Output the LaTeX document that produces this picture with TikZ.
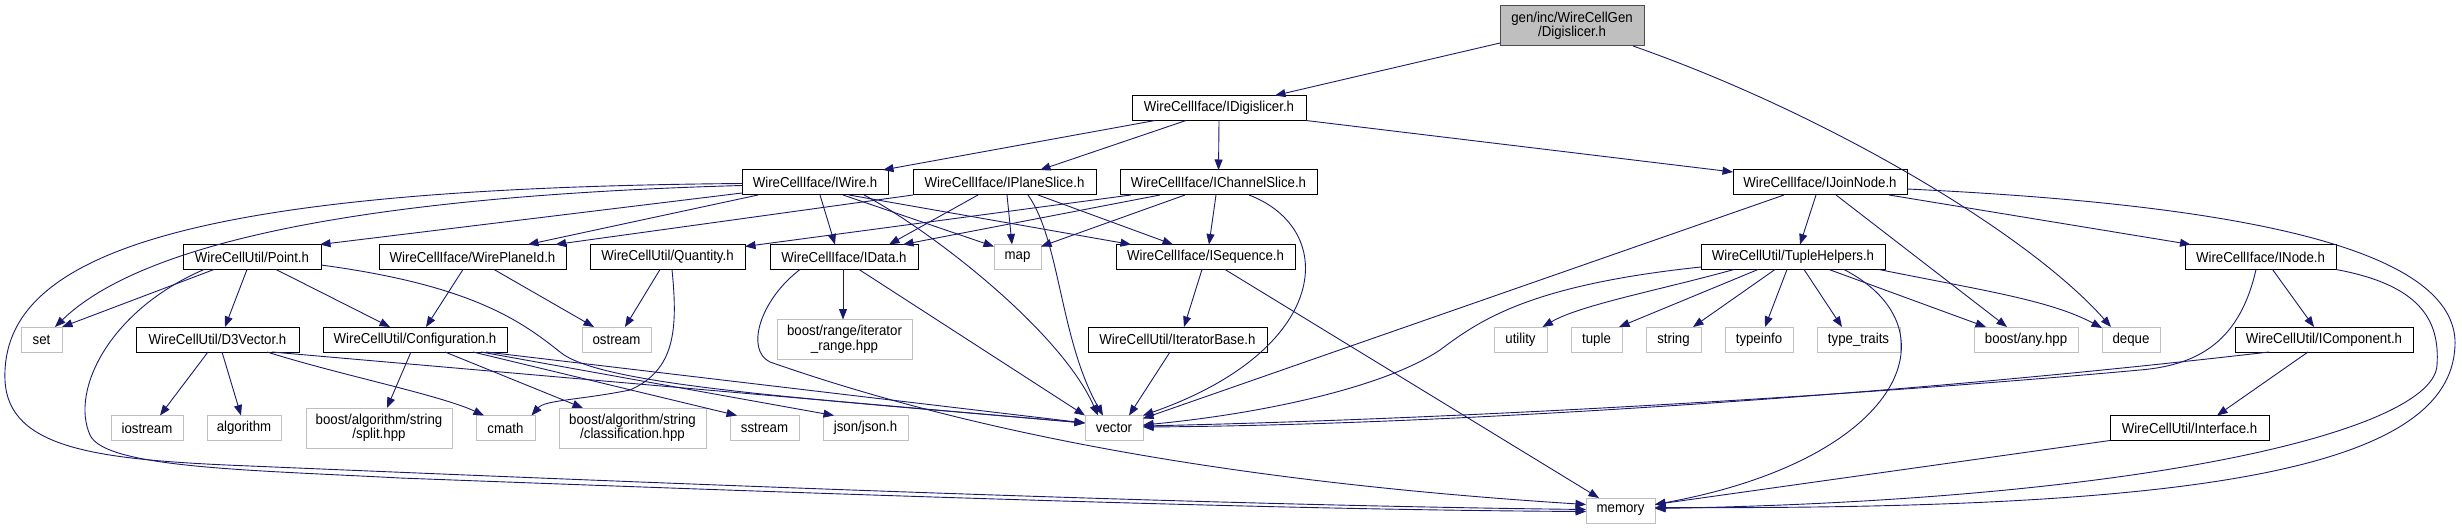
\documentclass[tikz,border=0pt]{standalone}
\usepackage{fontspec}
\setmainfont{Liberation Sans}[FakeStretch=0.92]
\usetikzlibrary{arrows.meta, positioning}
\definecolor{depBlue} {HTML}{191970}
\definecolor{sysGray} {HTML}{BFBFBF}
\definecolor{rootGray}{HTML}{BFBFBF}
\tikzset{
  hdr/.style  = {rectangle, draw=black, fill=white, line width=1pt,
                 minimum height=25pt, inner sep=0pt, outer sep=0pt,
                 align=center, font=\fontsize{14.4}{14.5}\selectfont},
  sys/.style  = {hdr, draw=sysGray},
  root/.style = {hdr, draw=black!70, fill=rootGray, minimum height=40pt},
  dep/.style  = {-{Triangle[length=10.5pt, width=8pt]}, line width=0.9pt, color=depBlue},
}
\begin{document}
\begin{tikzpicture}[x=1pt, y=-1pt]
  \useasboundingbox (0,0) rectangle (2462,529);

  % ---- top of the graph ----
  \node[root, minimum width=144pt] (dig)  at (1572,26)  {gen/inc/WireCellGen\\/Digislicer.h};
  \node[hdr,  minimum width=174pt] (idig) at (1219,108) {WireCellIface/IDigislicer.h};

  % ---- interfaces ----
  \node[hdr, minimum width=146pt] (iwire) at (815,182.5) {WireCellIface/IWire.h};
  \node[hdr, minimum width=183pt, right=25pt of iwire]  (iplane) {WireCellIface/IPlaneSlice.h};
  \node[hdr, minimum width=197pt, right=24pt of iplane] (ichan)  {WireCellIface/IChannelSlice.h};
  \node[hdr, minimum width=174pt, right=416pt of ichan] (ijoin)  {WireCellIface/IJoinNode.h};

  % ---- fourth row ----
  \node[hdr, minimum width=138pt] (point) at (252,257) {WireCellUtil/Point.h};
  \node[hdr, minimum width=187pt, right=58pt of point]   (wpid)    {WireCellIface/WirePlaneId.h};
  \node[hdr, minimum width=155pt, right=24pt of wpid]    (quant)   {WireCellUtil/Quantity.h};
  \node[hdr, minimum width=148pt, right=25pt of quant]   (idata)   {WireCellIface/IData.h};
  \node[sys, minimum width=47pt,  right=76pt of idata]   (map)     {map};
  \node[hdr, minimum width=179pt, right=75pt of map]     (iseq)    {WireCellIface/ISequence.h};
  \node[hdr, minimum width=184pt, right=406pt of iseq]   (tuphelp) {WireCellUtil/TupleHelpers.h};
  \node[hdr, minimum width=151pt, right=300pt of tuphelp] (inode)  {WireCellIface/INode.h};

  % ---- fifth row ----
  \node[sys, minimum width=41pt] (set) at (41.5,339.5) {set};
  \node[hdr, minimum width=163pt, right=74pt of set]       (d3v)        {WireCellUtil/D3Vector.h};
  \node[hdr, minimum width=184pt, right=24pt of d3v]       (config)     {WireCellUtil/Configuration.h};
  \node[sys, minimum width=69pt,  right=75pt of config]    (ostream)    {ostream};
  \node[sys, minimum width=135pt, minimum height=40pt, right=126pt of ostream] (itrange) {boost/range/iterator\\\_range.hpp};
  \node[hdr, minimum width=179pt, right=176pt of itrange]  (itbase)     {WireCellUtil/IteratorBase.h};
  \node[sys, minimum width=53pt,  right=227pt of itbase]   (utility)    {utility};
  \node[sys, minimum width=51pt,  right=24pt of utility]   (tuplestd)   {tuple};
  \node[sys, minimum width=55pt,  right=24pt of tuplestd]  (string)     {string};
  \node[sys, minimum width=68pt,  right=24pt of string]    (typeinfo)   {typeinfo};
  \node[sys, minimum width=83pt,  right=24pt of typeinfo]  (typetraits) {type\_traits};
  \node[sys, minimum width=104pt, right=74pt of typetraits] (anyhpp)    {boost/any.hpp};
  \node[sys, minimum width=58pt,  right=24pt of anyhpp]    (deque)      {deque};
  \node[hdr, minimum width=178pt, right=75pt of deque]     (icomp)      {WireCellUtil/IComponent.h};

  % ---- sixth row ----
  \node[sys, minimum width=72pt] (iostream) at (147,428) {iostream};
  \node[sys, minimum width=74pt,  right=24pt of iostream]  (algorithm) {algorithm};
  \node[sys, minimum width=146pt, minimum height=40pt, right=25pt of algorithm] (split) {boost/algorithm/string\\/split.hpp};
  \node[sys, minimum width=59pt,  right=24pt of split]     (cmath)     {cmath};
  \node[sys, minimum width=147pt, minimum height=40pt, right=24pt of cmath] (classif) {boost/algorithm/string\\/classification.hpp};
  \node[sys, minimum width=69pt,  right=24pt of classif]   (sstream)   {sstream};
  \node[sys, minimum width=85pt,  right=24pt of sstream]   (json)      {json/json.h};
  \node[sys, minimum width=58pt,  right=177pt of json]     (vector)    {vector};
  \node[hdr, minimum width=159pt, right=967pt of vector]   (iface)     {WireCellUtil/Interface.h};

  % ---- bottom ----
  \node[sys, minimum width=69pt] (memory) at (1620.5,510.5) {memory};

  % ---- from the top ----
  \draw[dep] ([yshift=3pt]dig.south west) -- ([xshift=56pt]idig.north);
  \draw[dep] ([xshift=61pt]dig.south) .. controls (1830,115) and (2030,235) .. ([xshift=-20pt]deque.north);
  \draw[dep] ([xshift=-64pt]idig.south) -- ([xshift=68pt]iwire.north);
  \draw[dep] ([xshift=-33pt]idig.south) -- ([xshift=35.5pt]iplane.north);
  \draw[dep] (idig.south) -- (ichan.north);
  \draw[dep] (idig.south east) -- ([yshift=-2pt]ijoin.north west);

  % ---- IWire.h ----
  \draw[dep] ([yshift=-3pt]iwire.west) .. controls (400,195) and (150,235) .. ([xshift=13.5pt]set.north);
  \draw[dep] ([yshift=-1pt]iwire.west) .. controls (200,188) and (0,250) .. (5,380)
             .. controls (8,450) and (100,460) .. (250,466)
             .. controls (700,485) and (1200,505) .. ([yshift=1pt]memory.west);
  \draw[dep] ([yshift=2pt]iwire.south west) -- ([xshift=-1pt]point.north east);
  \draw[dep] ([xshift=-57pt]iwire.south) -- ([xshift=55.5pt]wpid.north);
  \draw[dep] ([xshift=5pt]iwire.south) -- ([xshift=-9pt]idata.north);
  \draw[dep] ([xshift=28pt]iwire.south) -- ([yshift=-2pt]map.north west);
  \draw[dep] ([xshift=34pt]iwire.south) -- ([xshift=-74.5pt]iseq.north);
  \draw[dep] ([xshift=49pt]iwire.south) .. controls (930,230) and (1060,330) .. ([xshift=-16pt]vector.north);

  % ---- IPlaneSlice.h ----
  \draw[dep] (iplane.south west) -- ([xshift=83pt]wpid.north);
  \draw[dep] ([xshift=-26.5pt]iplane.south) -- ([xshift=45pt]idata.north);
  \draw[dep] ([xshift=2.5pt]iplane.south) -- ([xshift=-5.5pt]map.north);
  \draw[dep] ([xshift=23.5pt]iplane.south) .. controls (1060,240) and (1060,340) .. ([xshift=-11pt]vector.north);
  \draw[dep] ([xshift=33.5pt]iplane.south) -- ([xshift=-32.5pt]iseq.north);

  % ---- IChannelSlice.h ----
  \draw[dep] ([xshift=-87.5pt]ichan.south) -- ([yshift=-2pt]quant.north east);
  \draw[dep] ([xshift=-58.5pt]ichan.south) -- ([xshift=59pt]idata.north);
  \draw[dep] ([xshift=-33.5pt]ichan.south) -- ([yshift=-2pt]map.north east);
  \draw[dep] ([xshift=-2.5pt]ichan.south) -- ([xshift=3.5pt]iseq.north);
  \draw[dep] ([xshift=30.5pt]ichan.south) .. controls (1340,230) and (1330,350) .. (vector.north east);

  % ---- IJoinNode.h ----
  \draw[dep] ([xshift=-36pt]ijoin.south) -- ([yshift=-3pt]vector.north east);
  \draw[dep] ([xshift=-4pt]ijoin.south) -- ([xshift=7pt]tuphelp.north);
  \draw[dep] ([xshift=16pt]ijoin.south) -- ([xshift=-19pt]anyhpp.north);
  \draw[dep] ([xshift=69pt]ijoin.south) -- ([xshift=-70pt]inode.north);
  \draw[dep] ([yshift=-6.5pt]ijoin.east) .. controls (2250,205) and (2450,250) .. (2455,340)
             .. controls (2458,470) and (2200,510) .. ([yshift=3pt]memory.east);

  % ---- Point.h ----
  \draw[dep] ([xshift=-38pt]point.south) -- (set.north east);
  \draw[dep] ([xshift=-48pt]point.south) .. controls (110,310) and (70,390) .. (90,435)
             .. controls (105,468) and (250,470) .. (400,478)
             .. controls (900,497) and (1300,510) .. ([yshift=-1pt]memory.west);
  \draw[dep] ([xshift=-5pt]point.south) -- ([xshift=7.5pt]d3v.north);
  \draw[dep] ([xshift=24pt]point.south) -- ([xshift=-25pt]config.north);
  \draw[dep] ([yshift=-8pt]point.east) .. controls (470,285) and (520,320) .. (560,352)
             .. controls (600,385) and (800,398) .. ([yshift=5pt]vector.west);

  % ---- WirePlaneId.h, Quantity.h ----
  \draw[dep] ([xshift=-9.5pt]wpid.south) -- ([xshift=11pt]config.north);
  \draw[dep] ([xshift=21.5pt]wpid.south) -- ([xshift=-22.5pt]ostream.north);
  \draw[dep] ([xshift=-7.5pt]quant.south) -- ([xshift=8.5pt]ostream.north);
  \draw[dep] ([xshift=4.5pt]quant.south) .. controls (678,330) and (675,370) .. (630,390)
             .. controls (580,400) and (545,400) .. ([xshift=26pt]cmath.north);

  % ---- IData.h, ISequence.h ----
  \draw[dep] ([xshift=-1pt]idata.south) -- ([xshift=-1.5pt]itrange.north);
  \draw[dep] ([xshift=15pt]idata.south) -- (vector.north west);
  \draw[dep] ([xshift=-44pt]idata.south) .. controls (760,300) and (745,350) .. (770,362)
             .. controls (950,425) and (1200,480) .. ([yshift=6pt]memory.west);
  \draw[dep] ([xshift=-3.5pt]iseq.south) -- ([xshift=6.5pt]itbase.north);
  \draw[dep] ([xshift=19.5pt]iseq.south) -- ([xshift=-21.5pt]memory.north);
  \draw[dep] ([xshift=-7.5pt]itbase.south) -- ([xshift=15pt]vector.north);

  % ---- TupleHelpers.h ----
  \draw[dep] ([yshift=-10pt]tuphelp.west) .. controls (1530,285) and (1480,320) .. (1440,350)
             .. controls (1380,390) and (1250,415) .. ([yshift=3pt]vector.east);
  \draw[dep] ([xshift=-59pt]tuphelp.south) .. controls (1660,290) and (1580,305) .. ([xshift=22pt]utility.north);
  \draw[dep] ([xshift=-35pt]tuphelp.south) -- ([xshift=22.5pt]tuplestd.north);
  \draw[dep] ([xshift=-18pt]tuphelp.south) -- ([xshift=19.5pt]string.north);
  \draw[dep] ([xshift=-6pt]tuphelp.south) -- ([xshift=6pt]typeinfo.north);
  \draw[dep] ([xshift=11pt]tuphelp.south) -- ([xshift=-16.5pt]typetraits.north);
  \draw[dep] ([xshift=36pt]tuphelp.south) -- ([xshift=-40pt]anyhpp.north);
  \draw[dep] ([xshift=86pt]tuphelp.south) .. controls (1980,290) and (2050,300) .. ([yshift=-1pt]deque.north west);
  \draw[dep] ([xshift=51pt]tuphelp.south) .. controls (1960,330) and (1900,460) .. ([yshift=6pt]memory.east);

  % ---- INode.h, IComponent.h, Interface.h ----
  \draw[dep] ([xshift=-4.5pt]inode.south) .. controls (2240,340) and (2200,365) .. (2140,370)
             .. controls (1900,392) and (1500,418) .. ([yshift=2pt]vector.east);
  \draw[dep] ([xshift=12pt]inode.south) -- ([xshift=-10pt]icomp.north);
  \draw[dep] (inode.south east) .. controls (2420,285) and (2440,320) .. (2437,365)
             .. controls (2434,430) and (2150,500) .. ([yshift=2pt]memory.east);
  \draw[dep] ([xshift=-55pt]icomp.south) .. controls (1900,395) and (1450,425) .. ([yshift=1pt]vector.east);
  \draw[dep] ([xshift=-16pt]icomp.south) -- ([xshift=27.5pt]iface.north);
  \draw[dep] (iface.south west) -- ([yshift=6pt]memory.east);

  % ---- D3Vector.h, Configuration.h ----
  \draw[dep] ([xshift=-9.5pt]d3v.south) -- ([xshift=13pt]iostream.north);
  \draw[dep] ([xshift=4.5pt]d3v.south) -- ([xshift=-3pt]algorithm.north);
  \draw[dep] ([xshift=49.5pt]d3v.south) .. controls (340,375) and (440,395) .. ([xshift=-21.5pt]cmath.north);
  \draw[dep] ([xshift=54.5pt]d3v.south) -- ([yshift=5pt]vector.west);
  \draw[dep] ([xshift=-4pt]config.south) -- ([xshift=8pt]split.north);
  \draw[dep] ([xshift=30pt]config.south) -- ([xshift=-49.5pt]classif.north);
  \draw[dep] ([xshift=58pt]config.south) -- ([xshift=-27.5pt]sstream.north);
  \draw[dep] ([xshift=66pt]config.south) -- ([xshift=-31.5pt]json.north);
  \draw[dep] ([xshift=71pt]config.south) -- ([yshift=5pt]vector.west);

\end{tikzpicture}
\end{document}
